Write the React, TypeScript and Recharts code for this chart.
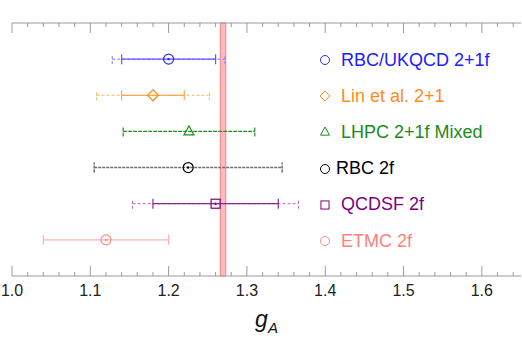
import React from 'react';
import { ScatterChart, Scatter, XAxis, YAxis, ErrorBar, ReferenceArea, Legend, Label } from 'recharts';

// one entry per lattice result, top row first
const labels = ['RBC/UKQCD 2+1f', 'Lin et al. 2+1', 'LHPC 2+1f Mixed', 'RBC 2f', 'QCDSF 2f', 'ETMC 2f'];
const rows = [6, 5, 4, 3, 2, 1];
const centers = [1.2, 1.18, 1.226, 1.225, 1.26, 1.12];
const innerLo = [1.14, 1.14, 1.142, 1.105, 1.18, 1.04];
const innerHi = [1.26, 1.22, 1.31, 1.345, 1.34, 1.2];
const outerLo = [1.128, 1.108, null, null, 1.154, null];
const outerHi = [1.272, 1.252, null, null, 1.366, null];
const markers = ['circle', 'diamond', 'triangle', 'circle', 'square', 'circle'];

// experimental value (band)
const gAExp = 1.2695;
const gAExpErr = 0.0035;

const allTicks = Array.from({ length: 33 }, (_, i) => +(1 + i * 0.02).toFixed(2));

const textColors = ['#2020ff', '#ff8c1a', '#1a8c1a', '#000000', '#800080', '#ff8080'];
const markerColors = ['#2a2aff', '#ff8c1a', '#1a8c1a', '#000000', '#800080', '#ff8a8a'];
const barColors = ['#5a5aff', '#ffa64d', '#238f23', '#6e6e6e', '#8a2a8a', '#ffb0b0'];
const outerColors = ['#7a7aff', '#ffb366', '', '', '#b466b4', ''];

const FONT = '"Liberation Sans", Arial, sans-serif';
const FRAME = '#9a9a9a';

const isMajor = (v: number) => Math.abs(v * 10 - Math.round(v * 10)) < 1e-6;

const Marker = ({ kind, cx, cy, color, dot, size = 1, sw = 1.2 }: any) => {
  const s = 5 * size;
  let shape;
  if (kind === 'diamond') {
    const d = s * 1.1;
    shape = <polygon points={`${cx},${cy - d} ${cx + d},${cy} ${cx},${cy + d} ${cx - d},${cy}`} fill="none" stroke={color} strokeWidth={sw} />;
  } else if (kind === 'triangle') {
    shape = <polygon points={`${cx},${cy - s * 1.1} ${cx + s},${cy + s * 0.7} ${cx - s},${cy + s * 0.7}`} fill="none" stroke={color} strokeWidth={sw} />;
  } else if (kind === 'square') {
    shape = <rect x={cx - s * 0.9} y={cy - s * 0.9} width={s * 1.8} height={s * 1.8} fill="none" stroke={color} strokeWidth={sw} />;
  } else {
    shape = <circle cx={cx} cy={cy} r={s} fill="none" stroke={color} strokeWidth={sw} />;
  }
  return (
    <g>
      {shape}
      {dot && <circle cx={cx} cy={cy} r={1.2} fill={color} />}
    </g>
  );
};

const BottomTick = ({ x, y, payload }: any) => {
  const major = isMajor(payload.value);
  return (
    <g>
      <line x1={x} y1={y} x2={x} y2={y - (major ? 10 : 4)} stroke={FRAME} />
      {major && (
        <text x={x} y={y + 20} textAnchor="middle" fontSize={16} fontFamily={FONT} fill="#222">
          {payload.value.toFixed(1)}
        </text>
      )}
    </g>
  );
};

const TopTick = ({ x, y, payload }: any) => {
  const major = isMajor(payload.value);
  return <line x1={x} y1={y} x2={x} y2={y + (major ? 10 : 4)} stroke={FRAME} />;
};

const AxisTitle = ({ viewBox }: any) => {
  const cx = viewBox ? viewBox.x + viewBox.width / 2 : 266;
  const by = viewBox ? viewBox.y + 51 : 327;
  return (
    <text x={cx} y={by} textAnchor="middle" fontFamily={FONT} fontStyle="italic" fill="#111">
      <tspan fontSize={23}>g</tspan>
      <tspan fontSize={15} dy={6}>A</tspan>
    </text>
  );
};

const LegendBox = () => (
  <div style={{ fontFamily: FONT, fontSize: 18 }}>
    {labels.map((name, i) => (
      <div key={name} style={{ height: 36.2, display: 'flex', alignItems: 'center' }}>
        <svg width={14} height={14} style={{ marginRight: i === 3 ? 4 : 9 }}>
          <Marker kind={markers[i]} cx={7} cy={7} color={markerColors[i]} dot={false} size={0.9} sw={1} />
        </svg>
        <span style={{ color: textColors[i], whiteSpace: 'nowrap' }}>{name}</span>
      </div>
    ))}
  </div>
);

const seriesData = labels.map((name, i) => [
  {
    x: centers[i],
    y: rows[i],
    inner: [centers[i] - innerLo[i], innerHi[i] - centers[i]],
    outer: outerLo[i] != null ? [centers[i] - (outerLo[i] as number), (outerHi[i] as number) - centers[i]] : null,
  },
]);

const innerDash = ['', '', '4 1', '3 1', '', ''];

export default function App() {
  return (
    <div style={{ position: 'absolute', left: 0, top: 0, background: '#fff' }}>
      <ScatterChart width={522} height={338} margin={{ top: 0, right: 1, bottom: 0, left: 12 }}>
        <XAxis
          xAxisId="bottom"
          type="number"
          dataKey="x"
          domain={[1.0, 1.65]}
          allowDataOverflow
          ticks={allTicks}
          interval={0}
          tickSize={0}
          tickMargin={0}
          tickLine={false}
          axisLine={{ stroke: FRAME }}
          tick={<BottomTick />}
          height={62}
          orientation="bottom"
        >
          <Label content={<AxisTitle />} />
        </XAxis>
        <XAxis
          xAxisId="top"
          type="number"
          dataKey="x"
          domain={[1.0, 1.65]}
          allowDataOverflow
          ticks={allTicks}
          interval={0}
          tickSize={0}
          tickMargin={0}
          tickLine={false}
          axisLine={{ stroke: FRAME }}
          tick={<TopTick />}
          height={23}
          orientation="top"
        />
        <YAxis yAxisId="left" type="number" dataKey="y" domain={[0, 7]} width={0} tick={false} tickLine={false} axisLine={{ stroke: FRAME }} />
        <YAxis yAxisId="right" orientation="right" type="number" domain={[0, 7]} width={0} tick={false} tickLine={false} axisLine={{ stroke: FRAME }} />
        <ReferenceArea
          xAxisId="bottom"
          yAxisId="left"
          x1={gAExp - gAExpErr}
          x2={gAExp + gAExpErr}
          y1={0}
          y2={7}
          fill="#ffbcbc"
          fillOpacity={1}
          stroke="#f28080"
          strokeWidth={1}
        />
        {labels.map((name, i) => (
          <Scatter
            key={name}
            name={name}
            data={seriesData[i]}
            xAxisId="bottom"
            yAxisId="left"
            isAnimationActive={false}
            shape={(p: any) => <Marker kind={markers[i]} cx={p.cx} cy={p.cy} color={markerColors[i]} dot={markers[i] !== 'diamond' && markers[i] !== 'triangle'} />}
          >
            {outerLo[i] != null && (
              <ErrorBar dataKey="outer" direction="x" width={5} stroke={outerColors[i]} strokeWidth={1} strokeDasharray="3 2" isAnimationActive={false} />
            )}
            <ErrorBar
              dataKey="inner"
              direction="x"
              width={5}
              stroke={barColors[i]}
              strokeWidth={i === 3 ? 1.5 : 1.2}
              strokeDasharray={innerDash[i] || undefined}
              isAnimationActive={false}
            />
          </Scatter>
        ))}
        <Legend
          layout="vertical"
          align="center"
          verticalAlign="middle"
          content={<LegendBox />}
          wrapperStyle={{ position: 'absolute', left: 318, top: 42, width: 204, height: 'auto' }}
        />
      </ScatterChart>
    </div>
  );
}
